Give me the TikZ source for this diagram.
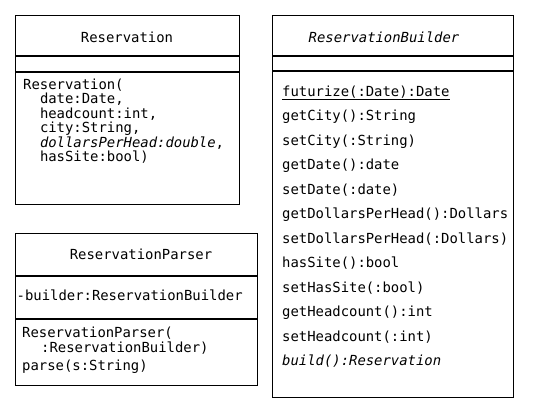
\documentclass[tikz,border=0pt]{standalone}
\usepackage{fontspec}
\setmonofont{DejaVu Sans Mono}
\begin{document}
\begin{tikzpicture}[x=1pt,y=-1pt,
  box/.style={draw,line width=1.1pt,rectangle,inner sep=0pt,anchor=north west},
  sep/.style={line width=1.1pt},
  txt/.style={anchor=base west,inner sep=0pt,font=\fontsize{13.9}{16}\selectfont\ttfamily},
  ttl/.style={anchor=base,inner sep=0pt,font=\fontsize{13.9}{16}\selectfont\ttfamily}]
\useasboundingbox (0,0) rectangle (536,400);
% Reservation
\node[box,minimum width=224pt,minimum height=189pt] (res) at (15,15) {};
\draw[sep] (res.west |- 0,56) -- (res.east |- 0,56);
\draw[sep] (res.west |- 0,72) -- (res.east |- 0,72);
\node[ttl] (resT) at (127,42) {Reservation};
\node[txt] (r1) at (23,89) {Reservation(};
\node[txt] (r2) at (39.8,103.5) {date:Date,};
\node[txt] (r3) at (39.8,118) {headcount:int,};
\node[txt] (r4) at (39.8,132.5) {city:String,};
\node[txt] (r5) at (39.8,147) {\itshape dollarsPerHead:double\upshape,};
\node[txt] (r6) at (39.8,161.5) {hasSite:bool)};
% ReservationParser
\node[box,minimum width=242pt,minimum height=152pt] (par) at (15,233) {};
\draw[sep] (par.west |- 0,276) -- (par.east |- 0,276);
\draw[sep] (par.west |- 0,319) -- (par.east |- 0,319);
\node[ttl] (parT) at (141,259) {ReservationParser};
\node[txt] (p0) at (16.5,300) {-builder:ReservationBuilder};
\node[txt] (p1) at (22,337) {ReservationParser(};
\node[txt] (p2) at (41,352) {:ReservationBuilder)};
\node[txt] (p3) at (22,370) {parse(s:String)};
% ReservationBuilder
\node[box,minimum width=241pt,minimum height=382pt] (bld) at (272,15) {};
\draw[sep] (bld.west |- 0,56) -- (bld.east |- 0,56);
\draw[sep] (bld.west |- 0,71) -- (bld.east |- 0,71);
\node[ttl] (bldT) at (384,42) {\itshape ReservationBuilder};
\node[txt] (b1) at (282,96) {\underline{futurize(:Date):Date}};
\node[txt] (b2) at (282,120.5) {getCity():String};
\node[txt] (b3) at (282,145) {setCity(:String)};
\node[txt] (b4) at (282,169.5) {getDate():date};
\node[txt] (b5) at (282,194) {setDate(:date)};
\node[txt] (b6) at (282,218.5) {getDollarsPerHead():Dollars};
\node[txt] (b7) at (282,243) {setDollarsPerHead(:Dollars)};
\node[txt] (b8) at (282,267.5) {hasSite():bool};
\node[txt] (b9) at (282,292) {setHasSite(:bool)};
\node[txt] (b10) at (282,316.5) {getHeadcount():int};
\node[txt] (b11) at (282,341) {setHeadcount(:int)};
\node[txt] (b12) at (282,365.5) {\itshape build():Reservation};
\end{tikzpicture}
\end{document}
